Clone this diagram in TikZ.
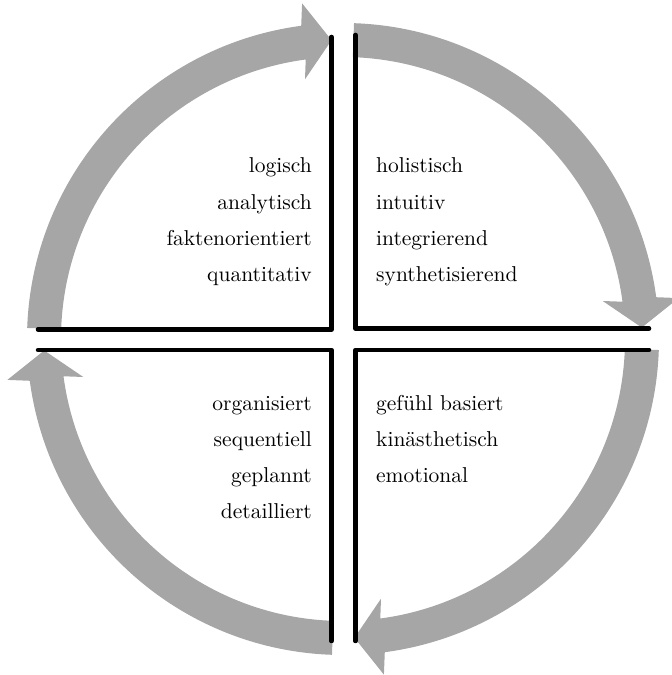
\documentclass[tikz,border=0pt]{standalone}
\usepackage{fontspec}
\usepackage{tikz}
\usetikzlibrary{calc}
\newfontfamily\wortfont{lmroman10-regular.otf}
\definecolor{my_gray}{HTML}{A6A6A6}
\definecolor{my_black}{HTML}{000000}

\begin{document}
\begin{tikzpicture}[
    x=1pt, y=1pt,
    kreispfeil/.style={fill=my_gray},
    quadrant/.style={draw=my_black, line width=4.5pt, line cap=round, line join=round},
    wortlinks/.style={anchor=base east, inner sep=0pt, font=\wortfont\fontsize{21.5}{26}\selectfont},
    wortrechts/.style={anchor=base west, inner sep=0pt, font=\wortfont\fontsize{21.5}{26}\selectfont}
]
\useasboundingbox (0, 0) rectangle (672, 675);

%% ---- Kreispfeile (im Uhrzeigersinn, einer pro Quadrant) ----
%%     Mittellinie r = 299, Schaft +-17, Spitze +-38, Spitzenlaenge 28
\begin{scope}[shift={(343, 336)}]
\foreach \q [evaluate=\q as \s using \q+88,
             evaluate=\q as \b using \q+7.6,
             evaluate=\q as \t using \q+2.2,
             evaluate=\q as \r using \q+92.2] in {90, 0, -90, -180} {
    \fill[kreispfeil]
        (\s:316pt) arc[start angle=\s, end angle=\b, radius=316pt]
        -- ($(\t:337pt)+(\r:28pt)$) -- (\t:299pt) -- ($(\t:261pt)+(\r:28pt)$)
        -- (\b:282pt)
        arc[start angle=\b, end angle=\s, radius=282pt] -- cycle;
}
\end{scope}

%% ---- Quadranten (Winkel) ----
\draw[quadrant] (38, 345.5) -- (331.5, 345.5) -- (331.5, 638);
\draw[quadrant] (355.5, 640) -- (355.5, 346.5) -- (649, 346.5);
\draw[quadrant] (38, 325) -- (331.5, 325) -- (331.5, 34);
\draw[quadrant] (649, 325) -- (355.5, 325) -- (355.5, 34);

%% ---- Begriffe links oben ----
\foreach \w [count=\i] in {logisch, analytisch, faktenorientiert, quantitativ}
    \node[wortlinks] (lo\i) at (312, {502 - 36.3*(\i-1)}) {\w};

%% ---- Begriffe rechts oben ----
\foreach \w [count=\i] in {holistisch, intuitiv, integrierend, synthetisierend}
    \node[wortrechts] (ro\i) at (376, {502 - 36.3*(\i-1)}) {\w};

%% ---- Begriffe links unten ----
\foreach \w [count=\i] in {organisiert, sequentiell, geplannt, detailliert}
    \node[wortlinks] (lu\i) at (312, {264 - 35.7*(\i-1)}) {\w};

%% ---- Begriffe rechts unten ----
\foreach \w [count=\i] in {gefühl basiert, kinästhetisch, emotional}
    \node[wortrechts] (ru\i) at (376, {264 - 35.7*(\i-1)}) {\w};

\end{tikzpicture}
\end{document}
